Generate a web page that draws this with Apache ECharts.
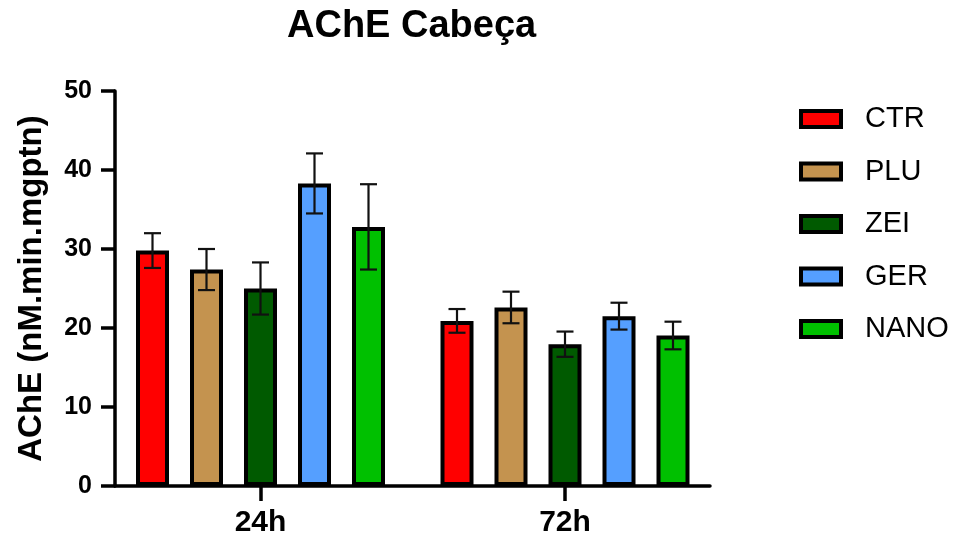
<!DOCTYPE html>
<html>
<head>
<meta charset="utf-8">
<script src="https://cdn.jsdelivr.net/npm/echarts@6/dist/echarts.min.js"></script>
<style>html,body{margin:0;padding:0;background:#fff}#c{width:965px;height:541px}</style>
</head>
<body>
<div id="c"></div>
<script>
const categories = ['24h', '72h'];
const seriesNames = ['CTR', 'PLU', 'ZEI', 'GER', 'NANO'];
const ctrMean = [29.8, 20.9];
const ctrErr = [2.2, 1.5];
const pluMean = [27.4, 22.6];
const pluErr = [2.6, 2.0];
const zeiMean = [25.0, 17.95];
const zeiErr = [3.3, 1.6];
const gerMean = [38.3, 21.5];
const gerErr = [3.8, 1.7];
const nanoMean = [32.8, 19.05];
const nanoErr = [5.4, 1.75];
const yTicks = [0, 10, 20, 30, 40, 50];

const means = [ctrMean, pluMean, zeiMean, gerMean, nanoMean];
const errs = [ctrErr, pluErr, zeiErr, gerErr, nanoErr];
const colors = ['#FF0000', '#C4934F', '#005A00', '#559FFF', '#00C000'];

const BAR_W = 33, BAR_GAP = 21 / 33;
const FONT = '"Liberation Sans", Arial, sans-serif';

const chart = echarts.init(document.getElementById('c'), null, {renderer: 'canvas'});

const series = [];
seriesNames.forEach((name, i) => {
  series.push({
    name: name,
    type: 'bar',
    xAxisIndex: 1,
    yAxisIndex: 1,
    barWidth: BAR_W,
    barGap: (BAR_GAP * 100) + '%',
    data: means[i],
    itemStyle: {color: colors[i], borderColor: '#000', borderWidth: 4},
    emphasis: {disabled: true},
    z: 2
  });
});
seriesNames.forEach((name, i) => {
  const n = seriesNames.length;
  const offset = (i - (n - 1) / 2) * BAR_W * (1 + BAR_GAP);
  series.push({
    name: name + '_err',
    type: 'custom',
    xAxisIndex: 1,
    yAxisIndex: 1,
    z: 5,
    silent: true,
    data: means[i].map((m, k) => [k, m - errs[i][k], m + errs[i][k]]),
    renderItem: function (params, api) {
      const c = api.coord([api.value(0), api.value(1)]);
      const top = api.coord([api.value(0), api.value(2)]);
      const x = c[0] + offset;
      const hw = 8.5;
      const style = {stroke: '#111', lineWidth: 2.2, fill: null};
      return {
        type: 'group',
        children: [
          {type: 'line', shape: {x1: x, y1: c[1], x2: x, y2: top[1]}, style: style},
          {type: 'line', shape: {x1: x - hw, y1: c[1], x2: x + hw, y2: c[1]}, style: style},
          {type: 'line', shape: {x1: x - hw, y1: top[1], x2: x + hw, y2: top[1]}, style: style}
        ]
      };
    }
  });
});

const option = {
  backgroundColor: '#fff',
  animation: false,
  title: {
    text: 'AChE Cabeça',
    left: 287,
    top: 8,
    padding: 0,
    textStyle: {fontFamily: FONT, fontWeight: 'bold', fontSize: 38, color: '#000'}
  },
  legend: {
    data: seriesNames,
    orient: 'vertical',
    left: 799,
    top: 104,
    padding: 0,
    itemWidth: 40,
    itemHeight: 16,
    itemGap: 22.5,
    icon: 'rect',
    itemStyle: {borderColor: '#000', borderWidth: 4},
    textStyle: {fontFamily: FONT, fontSize: 29, color: '#000', lineHeight: 30, padding: [0, 0, 0, 19]},
    selectedMode: false
  },
  grid: [
    {left: 115, right: 255, top: 91, bottom: 55},
    {left: 108.25, right: 247.75, top: 91, bottom: 55}
  ],
  xAxis: [
    {
      type: 'category',
      gridIndex: 0,
      data: categories,
      axisLine: {show: true, lineStyle: {color: '#000', width: 3.5}},
      axisTick: {show: false},
      axisLabel: {show: false},
      splitLine: {show: false}
    },
    {
      type: 'category',
      gridIndex: 1,
      data: categories,
      axisLine: {show: false},
      axisTick: {show: true, alignWithLabel: true, length: 15, lineStyle: {color: '#000', width: 3.5}},
      axisLabel: {show: true, margin: 22, fontFamily: FONT, fontWeight: 'bold', fontSize: 30, color: '#000'},
      splitLine: {show: false}
    }
  ],
  yAxis: [
    {
      type: 'value',
      gridIndex: 0,
      min: yTicks[0],
      max: yTicks[yTicks.length - 1],
      interval: 10,
      name: 'AChE (nM.min.mgptn)',
      nameLocation: 'middle',
      nameRotate: 90,
      nameGap: 67,
      nameTextStyle: {fontFamily: FONT, fontWeight: 'bold', fontSize: 33, color: '#000'},
      axisLine: {show: true, lineStyle: {color: '#000', width: 3.5}},
      axisTick: {show: true, length: 14, lineStyle: {color: '#000', width: 3.5}},
      axisLabel: {margin: 23, fontFamily: FONT, fontWeight: 'bold', fontSize: 25, color: '#000'},
      splitLine: {show: false}
    },
    {
      type: 'value',
      gridIndex: 1,
      min: yTicks[0],
      max: yTicks[yTicks.length - 1],
      interval: 10,
      show: false
    }
  ],
  series: series
};
chart.setOption(option);
</script>
</body>
</html>
